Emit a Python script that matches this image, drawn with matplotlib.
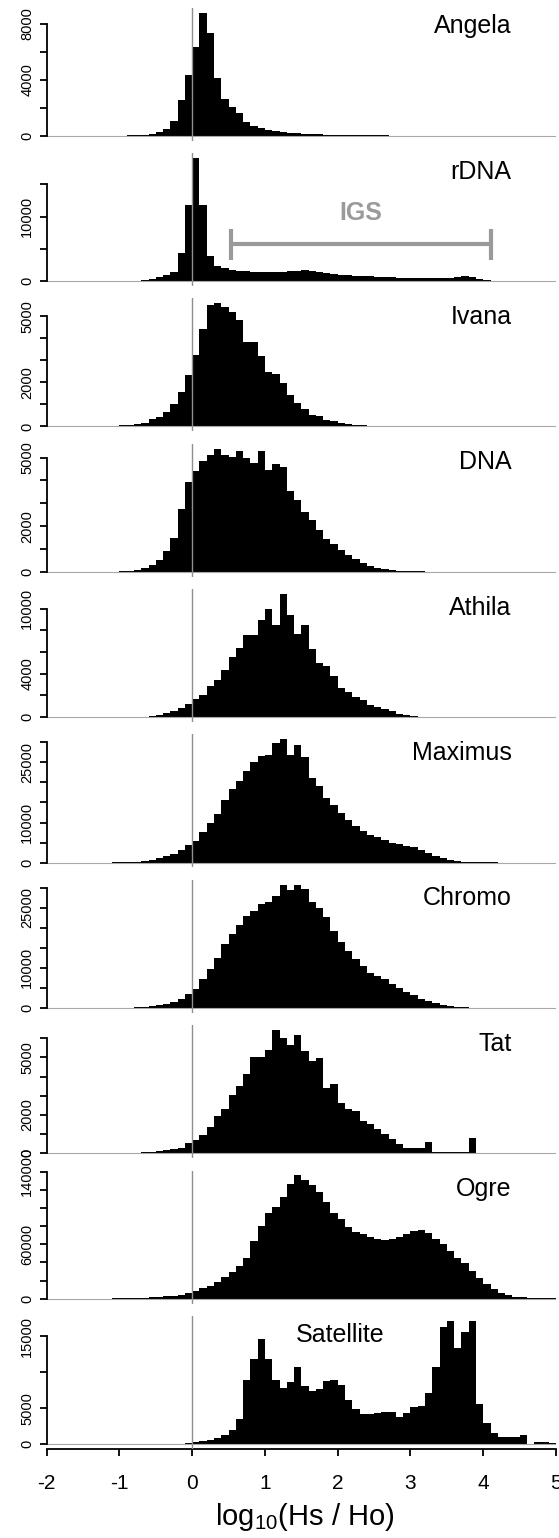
import numpy as np
import matplotlib
matplotlib.use("Agg")
import matplotlib.pyplot as plt
import matplotlib.transforms as mtransforms

plt.rcParams["font.family"] = "Liberation Sans"
plt.rcParams["mathtext.fontset"] = "custom"
plt.rcParams["mathtext.rm"] = "Liberation Sans"
plt.rcParams["mathtext.default"] = "regular"

# ---------------------------------------------------------------------------
# Histogram counts, bins of 0.1 from -2 to 5 (one row per unit of x)
# ---------------------------------------------------------------------------
angela = [
    0, 0, 0, 0, 0, 0, 2, 3, 5, 8,
    12, 18, 30, 50, 120, 240, 460, 1060, 2530, 4330,
    6310, 8800, 7330, 4150, 2650, 2050, 1615, 1010, 700, 530,
    410, 340, 265, 215, 170, 140, 115, 95, 80, 65,
    55, 45, 38, 30, 25, 20, 16, 12, 10, 8,
    6, 5, 4, 3, 2, 2, 1, 1, 1, 0,
    0, 0, 0, 0, 0, 0, 0, 0, 0, 0]

rdna = [
    0, 0, 0, 0, 0, 0, 0, 0, 5, 10,
    15, 25, 50, 156, 365, 625, 990, 1400, 4400, 11880,
    19120, 11880, 3900, 2340, 2030, 1720, 1560, 1510, 1460, 1430,
    1430, 1460, 1480, 1510, 1600, 1720, 1600, 1450, 1300, 1150,
    990, 920, 850, 780, 720, 680, 640, 600, 550, 500,
    470, 450, 460, 480, 500, 520, 600, 780, 650, 260,
    160, 60, 20, 10, 5, 0, 0, 0, 0, 0]

ivana = [
    0, 0, 0, 0, 0, 0, 0, 5, 10, 30,
    45, 60, 90, 150, 340, 430, 670, 1025, 1560, 2330,
    3220, 4420, 5520, 5590, 5420, 5210, 4820, 3810, 3825, 3175,
    2465, 2370, 1990, 1410, 1070, 800, 535, 460, 300, 230,
    150, 100, 70, 50, 40, 25, 20, 15, 10, 8,
    5, 5, 0, 0, 0, 0, 0, 0, 0, 0,
    0, 0, 0, 0, 0, 0, 0, 0, 0, 0]

dna = [
    0, 0, 0, 0, 0, 0, 0, 0, 5, 10,
    20, 45, 85, 150, 280, 500, 890, 1490, 2750, 3950,
    4390, 4830, 5090, 5390, 5120, 5045, 5300, 5000, 4750, 5300,
    4450, 4700, 4600, 3520, 3150, 2630, 2270, 1825, 1440, 1230,
    965, 740, 580, 400, 250, 180, 105, 75, 45, 30,
    20, 15, 10, 0, 0, 0, 0, 0, 0, 0,
    0, 0, 0, 0, 0, 0, 0, 0, 0, 0]

athila = [
    0, 0, 0, 0, 0, 0, 0, 0, 0, 0,
    0, 10, 30, 60, 120, 180, 340, 545, 860, 1220,
    1660, 2080, 2840, 3440, 4300, 5500, 6370, 7530, 7530, 8985,
    9970, 8530, 11340, 9375, 7660, 8440, 6310, 5000, 4690, 3750,
    2660, 2340, 1875, 1560, 1090, 940, 780, 560, 310, 156,
    94, 60, 40, 25, 15, 10, 0, 0, 0, 0,
    0, 0, 0, 0, 0, 0, 0, 0, 0, 0]

maximus = [
    0, 0, 0, 0, 0, 0, 0, 0, 0, 20,
    45, 85, 200, 380, 590, 1010, 1560, 2190, 3250, 4420,
    5440, 7580, 9950, 12010, 15520, 18420, 20320, 22960, 25240, 26550,
    26940, 29840, 30770, 26900, 29250, 26300, 21240, 19140, 16190, 14250,
    12390, 10700, 9020, 7760, 6910, 6490, 5650, 4970, 4550, 4215,
    3790, 3120, 2280, 1600, 1010, 590, 340, 250, 170, 85,
    40, 20, 0, 0, 0, 0, 0, 0, 0, 0]

chromo = [
    0, 0, 0, 0, 0, 0, 0, 0, 0, 20,
    50, 90, 200, 320, 500, 720, 1030, 1480, 2200, 3370,
    4670, 7200, 9760, 12400, 15970, 18480, 20600, 22850, 24200, 25770,
    26440, 28000, 30690, 29440, 30690, 29730, 26500, 24900, 22600, 19250,
    16300, 14200, 12200, 10350, 8600, 7950, 7100, 5900, 4850, 3950,
    3100, 2250, 1700, 1100, 630, 370, 250, 150, 0, 0,
    0, 0, 0, 0, 0, 0, 0, 0, 0, 0]

tat = [
    0, 0, 0, 0, 0, 0, 0, 0, 0, 10,
    15, 20, 35, 53, 88, 124, 176, 230, 290, 540,
    680, 960, 1390, 1920, 2330, 3050, 3520, 4150, 5030, 5010,
    5390, 6420, 5990, 5630, 6150, 5350, 4790, 4990, 3400, 3600,
    2600, 2300, 2200, 1700, 1550, 1250, 1000, 760, 470, 280,
    260, 260, 610, 50, 50, 80, 85, 90, 800, 0,
    0, 0, 0, 0, 0, 0, 0, 0, 0, 0]

ogre = [
    0, 0, 0, 0, 0, 30, 50, 80, 120, 200,
    300, 450, 700, 1000, 1400, 1800, 2400, 3200, 4400, 6500,
    8700, 11700, 14460, 18620, 23600, 29950, 36500, 45000, 64200, 79700,
    94500, 101450, 112400, 126270, 136000, 130500, 125400, 117800, 106400, 95000,
    87400, 79000, 73900, 71400, 68400, 65450, 65000, 65450, 68400, 71400,
    74750, 75600, 72600, 66300, 60000, 52800, 45200, 38850, 30400, 23200,
    16500, 10550, 6330, 3800, 2100, 1270, 850, 400, 250, 150]

satellite = [
    0, 0, 0, 0, 0, 0, 0, 0, 0, 0,
    0, 0, 0, 0, 0, 0, 0, 0, 0, 100,
    230, 350, 600, 900, 1300, 1970, 3500, 8900, 11900, 14680,
    11800, 8900, 7800, 8700, 10760, 8100, 7450, 7650, 8750, 8900,
    8300, 6150, 4900, 4180, 4230, 4300, 4400, 4500, 3750, 4360,
    5100, 5280, 7150, 10700, 16300, 17180, 13400, 15600, 17100, 5600,
    2935, 1550, 910, 910, 910, 1280, 0, 270, 320, 200]

names = ["Angela", "rDNA", "Ivana", "DNA", "Athila",
         "Maximus", "Chromo", "Tat", "Ogre", "Satellite"]
series = [angela, rdna, ivana, dna, athila,
          maximus, chromo, tat, ogre, satellite]

# y ticks (step, last tick) and which labels R kept
ytick_step = [2000, 5000, 1000, 1000, 2000, 5000, 5000, 1000, 20000, 5000]
ytick_last = [8000, 15000, 5000, 5000, 10000, 30000, 30000, 6000, 140000, 15000]
ytick_labels = [
    ["0", "", "4000", "", "8000"],
    ["0", "", "10000", ""],
    ["0", "", "2000", "", "", "5000"],
    ["0", "", "2000", "", "", "5000"],
    ["0", "", "4000", "", "", "10000"],
    ["0", "", "10000", "", "", "25000", ""],
    ["0", "", "10000", "", "", "25000", ""],
    ["0", "", "2000", "", "", "5000", ""],
    ["0", "", "", "60000", "", "", "", "140000"],
    ["0", "5000", "", "15000"],
]

x_ticks = [-2, -1, 0, 1, 2, 3, 4, 5]
edges = np.round(np.linspace(-2, 5, 71), 1)

# IGS bracket on the rDNA panel
igs_x = [0.53, 4.11]
igs_y = 5750
igs_cap = [3290, 8100]

# ---------------------------------------------------------------------------
# Figure
# ---------------------------------------------------------------------------
W, H = 559, 1538
fig = plt.figure(figsize=(W / 100, H / 100), dpi=100)

left_px, right_px = 46.7, 556.0
base0, step = 135.7, 145.37
grey_line = "#8f8f8f"
grey_igs = "#9a9a9a"

for i, (name, counts) in enumerate(zip(names, series)):
    base = base0 + i * step
    top, bottom = base - 128.1, base + 4.9
    ax = fig.add_axes([left_px / W, 1 - bottom / H,
                       (right_px - left_px) / W, (bottom - top) / H])
    ymax = max(counts)
    ax.set_xlim(-2, 5)
    ax.set_ylim(-0.04 * ymax, 1.04 * ymax)

    ax.stairs(counts, edges, fill=True, color="black", linewidth=0)
    ax.axhline(0, color="#a8a8a8", lw=0.8, zorder=1)
    ax.axvline(0, color=grey_line, lw=1.0, zorder=3)

    for s in ["top", "right", "bottom"]:
        ax.spines[s].set_visible(False)
    ax.spines["left"].set_linewidth(1.3)
    ax.spines["left"].set_bounds(0, ytick_last[i])

    yt = np.arange(0, ytick_last[i] + 1, ytick_step[i])
    ax.set_yticks(yt)
    ax.set_yticklabels(ytick_labels[i], rotation=90, va="center")
    ax.tick_params(axis="y", direction="out", length=5, width=1.3,
                   labelsize=10.5, pad=4)

    trans = mtransforms.blended_transform_factory(ax.transData, ax.transAxes)
    if name == "Satellite":
        ax.text(1.42, 0.807, name, transform=trans, ha="left",
                va="baseline", fontsize=18)
    else:
        ax.text(4.387, 0.807, name, transform=trans, ha="right",
                va="baseline", fontsize=18)

    if name == "rDNA":
        ax.plot(igs_x, [igs_y, igs_y], color=grey_igs, lw=3,
                solid_capstyle="butt")
        for xv in igs_x:
            ax.plot([xv, xv], igs_cap, color=grey_igs, lw=3,
                    solid_capstyle="butt")
        ax.text(np.mean(igs_x), 9510, "IGS", ha="center", va="baseline",
                fontsize=18, fontweight="bold", color=grey_igs)

    if i == len(names) - 1:
        ax.spines["bottom"].set_visible(True)
        ax.spines["bottom"].set_linewidth(1.3)
        ax.spines["bottom"].set_bounds(-2, 5)
        ax.set_xticks(x_ticks)
        ax.set_xticklabels([str(v) for v in x_ticks])
        ax.tick_params(axis="x", direction="out", length=5, width=1.3,
                       labelsize=15, pad=13)
    else:
        ax.set_xticks([])

fig.text(305 / W, 1 - 1525 / H, r"log$_{10}$(Hs / Ho)", ha="center",
         va="baseline", fontsize=21)

fig.savefig("out.png", dpi=100)
